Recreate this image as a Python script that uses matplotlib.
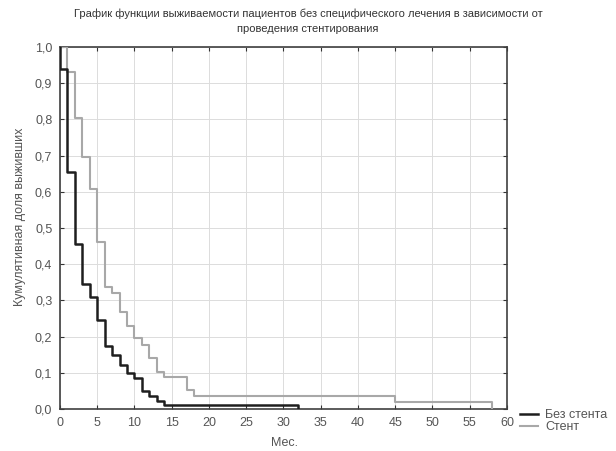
import matplotlib
matplotlib.use("Agg")
import matplotlib.pyplot as plt
from matplotlib.lines import Line2D

plt.rcParams['font.family'] = ['Liberation Sans', 'DejaVu Sans']

# Data (Kaplan-Meier style step curves)
t_no_stent = [0, 0, 1, 2, 3, 4, 5, 6, 7, 8, 9, 10, 11, 12, 13, 14, 32]
s_no_stent = [1.0, 0.94, 0.655, 0.455, 0.345, 0.31, 0.245, 0.175, 0.15, 0.122,
              0.099, 0.085, 0.05, 0.036, 0.023, 0.011, 0.0]
t_stent = [0, 1, 2, 3, 4, 5, 6, 7, 8, 9, 10, 11, 12, 13, 14, 17, 18, 45, 58]
s_stent = [1.0, 0.93, 0.803, 0.697, 0.608, 0.462, 0.338, 0.32, 0.269, 0.229,
           0.195, 0.177, 0.14, 0.103, 0.088, 0.052, 0.037, 0.018, 0.0]

labels = ["Без стента", "Стент"]
x_ticks = list(range(0, 61, 5))
y_ticks = [i / 10 for i in range(11)]
y_tick_labels = [f"{v:.1f}".replace('.', ',') for v in y_ticks]

title_lines = ["График функции выживаемости пациентов без специфического лечения в зависимости от",
               "проведения стентирования"]

fig = plt.figure(figsize=(6.16, 4.51), dpi=100)
ax = fig.add_axes([0.0974, 0.0931, 0.7256, 0.8027])

c_black = '#1e1e1e'
c_gray = '#a8a8a8'
ax.plot(t_stent, s_stent, drawstyle='steps-post', color=c_gray, lw=1.5, zorder=3)
ax.plot(t_no_stent, s_no_stent, drawstyle='steps-post', color=c_black, lw=1.8, zorder=4)

ax.set_xlim(0, 60)
ax.set_ylim(0, 1.0)
ax.set_xticks(x_ticks)
ax.set_yticks(y_ticks)
ax.set_yticklabels(y_tick_labels)
ax.grid(True, color='#dcdcdc', lw=0.7)
ax.set_axisbelow(True)
ax.tick_params(direction='in', top=True, right=True, length=3, width=0.8,
               labelsize=9, colors='#333333', labelcolor='#555555', pad=5.5)
for sp in ax.spines.values():
    sp.set_color('#404040')
    sp.set_linewidth(1.2)

ax.set_xlabel("Мес.", fontsize=9, color='#555555')
ax.set_ylabel("Кумулятивная доля выживших", fontsize=9, color='#555555')
ax.xaxis.set_label_coords(0.503, -0.078)
ax.yaxis.set_label_coords(-0.076, 0.532)
fig.text(0.5, 1 - 14 / 451, title_lines[0], ha='center', va='center', fontsize=8, color='#333333')
fig.text(0.5, 1 - 28.5 / 451, title_lines[1], ha='center', va='center', fontsize=8, color='#333333')

handles = [Line2D([], [], color=c_black, lw=1.8), Line2D([], [], color=c_gray, lw=1.5)]
fig.legend(handles, labels, loc='upper left', bbox_to_anchor=(0.840, 1 - 407 / 451),
           frameon=False, fontsize=9, handlelength=1.45, handletextpad=0.55,
           labelspacing=0.0, borderpad=0.2, borderaxespad=0, labelcolor='#555555')

fig.savefig("out.png", dpi=100, facecolor='white')
